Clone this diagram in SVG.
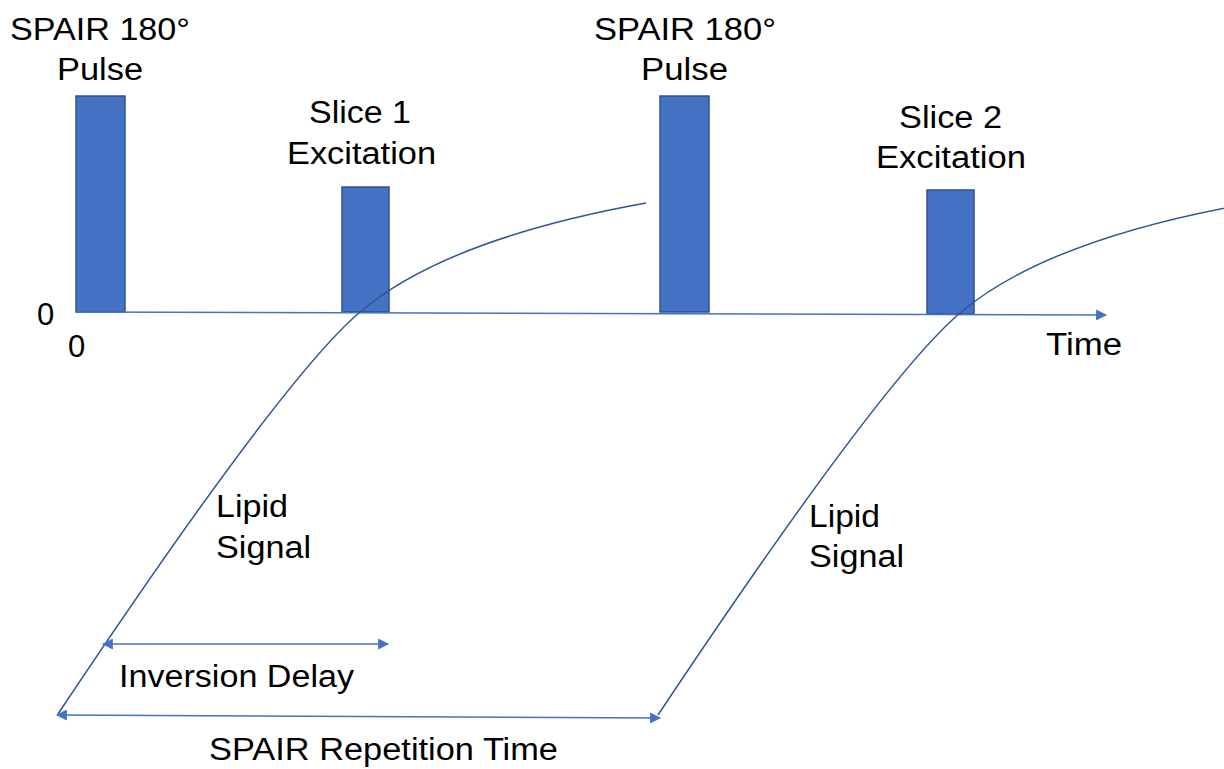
<svg xmlns="http://www.w3.org/2000/svg" width="1224" height="769" viewBox="0 0 1224 769">
<style>
.t{font-family:"Liberation Sans",Arial,sans-serif;font-size:31px;fill:#000}
.bar{fill:#4472C4;stroke:#2F528F;stroke-width:1.5}
.ln{fill:none;stroke:#4472C4;stroke-width:1.5}
.cv{fill:none;stroke:#2F5597;stroke-width:1.5}
</style>
<defs>
<marker id="ah" viewBox="0 0 10 10" refX="9" refY="5" markerUnits="userSpaceOnUse" markerWidth="12" markerHeight="11" orient="auto-start-reverse">
<path d="M0,0 L10,5 L0,10 z" fill="#4472C4"/>
</marker>
</defs>
<rect width="1224" height="769" fill="#fff"/>
<g id="spair1">
<rect class="bar" x="76" y="96" width="49" height="216"/>
<text class="t" x="10" y="40" textLength="180" lengthAdjust="spacingAndGlyphs">SPAIR 180°</text>
<text class="t" x="57" y="80" textLength="86" lengthAdjust="spacingAndGlyphs">Pulse</text>
</g>
<g id="slice1">
<rect class="bar" x="342" y="187" width="47" height="125"/>
<text class="t" x="309" y="123" textLength="102" lengthAdjust="spacingAndGlyphs">Slice 1</text>
<text class="t" x="287" y="164" textLength="149" lengthAdjust="spacingAndGlyphs">Excitation</text>
</g>
<g id="spair2">
<rect class="bar" x="660" y="96" width="49" height="216"/>
<text class="t" x="594" y="40" textLength="182" lengthAdjust="spacingAndGlyphs">SPAIR 180°</text>
<text class="t" x="641" y="80" textLength="87" lengthAdjust="spacingAndGlyphs">Pulse</text>
</g>
<g id="slice2">
<rect class="bar" x="927" y="190" width="47" height="124"/>
<text class="t" x="899" y="128" textLength="103" lengthAdjust="spacingAndGlyphs">Slice 2</text>
<text class="t" x="876" y="168" textLength="150" lengthAdjust="spacingAndGlyphs">Excitation</text>
</g>
<g id="axis-labels">
<text class="t" x="37" y="325">0</text>
<text class="t" x="68" y="357">0</text>
<text class="t" x="1046" y="355" textLength="76" lengthAdjust="spacingAndGlyphs">Time</text>
</g>
<g id="lipid1">
<text class="t" x="216" y="517" textLength="72" lengthAdjust="spacingAndGlyphs">Lipid</text>
<text class="t" x="216" y="558" textLength="95" lengthAdjust="spacingAndGlyphs">Signal</text>
</g>
<g id="lipid2">
<text class="t" x="809" y="527" textLength="71" lengthAdjust="spacingAndGlyphs">Lipid</text>
<text class="t" x="809" y="567" textLength="95" lengthAdjust="spacingAndGlyphs">Signal</text>
</g>
<g id="dim-labels">
<text class="t" x="119" y="687" textLength="235" lengthAdjust="spacingAndGlyphs">Inversion Delay</text>
<text class="t" x="209" y="760" textLength="349" lengthAdjust="spacingAndGlyphs">SPAIR Repetition Time</text>
</g>
<g id="connectors">
<path class="ln" d="M76,312 L1106,315" marker-end="url(#ah)"/>
<path class="cv" d="M58,714 C178,534 300,363 360,312 C430,252.5 546,221 646,203"/>
<path class="cv" d="M658,715 C778,535 900,364 960,313 C1030,253.5 1146,222 1246,204"/>
<path class="ln" d="M103,644 L388,644" marker-start="url(#ah)" marker-end="url(#ah)"/>
<path class="ln" d="M57,715 L660,718" marker-start="url(#ah)" marker-end="url(#ah)"/>
</g>
</svg>
